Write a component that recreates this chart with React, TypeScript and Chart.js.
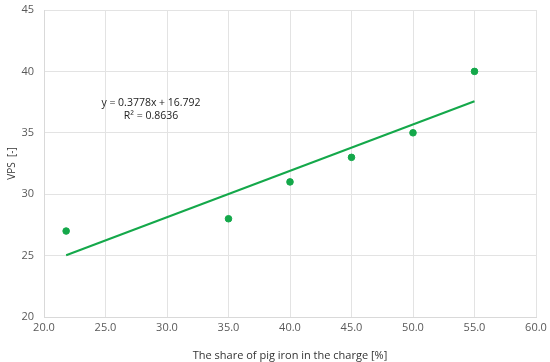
import React, { useEffect, useRef } from "react";
import { Chart, registerables } from "chart.js";

Chart.register(...registerables);

const xValues = [21.8, 35, 40, 45, 50, 55];
const yValues = [27, 28, 31, 33, 35, 40];
const slope = 0.3778;
const intercept = 16.792;
const trendX = [21.8, 55];
const equationText = "y = 0.3778x + 16.792";
const r2Text = "R² = 0.8636";
const xTitle = "The share of pig iron in the charge [%]";
const yTitle = "VPS  [-]";

const green = "#14a84a";
const font = "'Open Sans', 'Liberation Sans', sans-serif";

export default function App() {
  const ref = useRef<HTMLCanvasElement>(null);
  useEffect(() => {
    document.body.style.margin = "0";
    const annot = {
      id: "annot",
      afterDatasetsDraw(chart: any) {
        const { ctx, scales } = chart;
        const px = scales.x.getPixelForValue(28.7);
        const py = scales.y.getPixelForValue(37.4);
        ctx.save();
        ctx.font = `10.5px ${font}`;
        ctx.fillStyle = "#222";
        ctx.textAlign = "center";
        ctx.textBaseline = "middle";
        ctx.fillText(equationText, px, py);
        ctx.fillText(r2Text, px, py + 13);
        ctx.restore();
      },
    };
    const chart = new Chart(ref.current!, {
      type: "scatter",
      data: {
        datasets: [
          {
            data: xValues.map((x, i) => ({ x, y: yValues[i] })),
            backgroundColor: green,
            borderColor: green,
            pointRadius: 3.3,
            pointHoverRadius: 3.3,
            showLine: false,
          },
          {
            data: trendX.map((x) => ({ x, y: slope * x + intercept })),
            borderColor: green,
            borderWidth: 2,
            pointRadius: 0,
            showLine: true,
            fill: false,
          },
        ],
      },
      options: {
        animation: false,
        responsive: false,
        layout: { padding: { top: 10, right: 14, left: 6, bottom: 0 } },
        plugins: { legend: { display: false }, tooltip: { enabled: false } },
        scales: {
          x: {
            type: "linear",
            min: 20,
            max: 60,
            ticks: {
              stepSize: 5,
              color: "#595959",
              font: { family: font, size: 11 },
              callback: (v: any) => Number(v).toFixed(1),
              padding: 4,
            },
            grid: { color: "#e3e3e3", drawTicks: false },
            border: { color: "#d9d9d9" },
            title: {
              display: true,
              text: xTitle,
              color: "#333",
              font: { family: font, size: 11 },
              padding: { top: 2, bottom: 0 },
            },
            afterFit: (s: any) => {
              s.height = 45;
              s.paddingLeft = 0;
              s.paddingRight = 0;
            },
          },
          y: {
            min: 20,
            max: 45,
            ticks: {
              stepSize: 5,
              color: "#595959",
              font: { family: font, size: 11 },
              padding: 10,
            },
            grid: { color: "#e3e3e3", drawTicks: false },
            border: { color: "#d9d9d9" },
            title: {
              display: true,
              text: yTitle,
              color: "#333",
              font: { family: font, size: 10 },
              padding: { top: 0, bottom: 0 },
            },
            afterFit: (s: any) => {
              s.width = 38;
              s.paddingTop = 0;
              s.paddingBottom = 0;
            },
          },
        },
      },
      plugins: [annot],
    });
    return () => chart.destroy();
  }, []);
  return (
    <div style={{ width: 550, height: 362 }}>
      <canvas ref={ref} width={550} height={362} />
    </div>
  );
}
